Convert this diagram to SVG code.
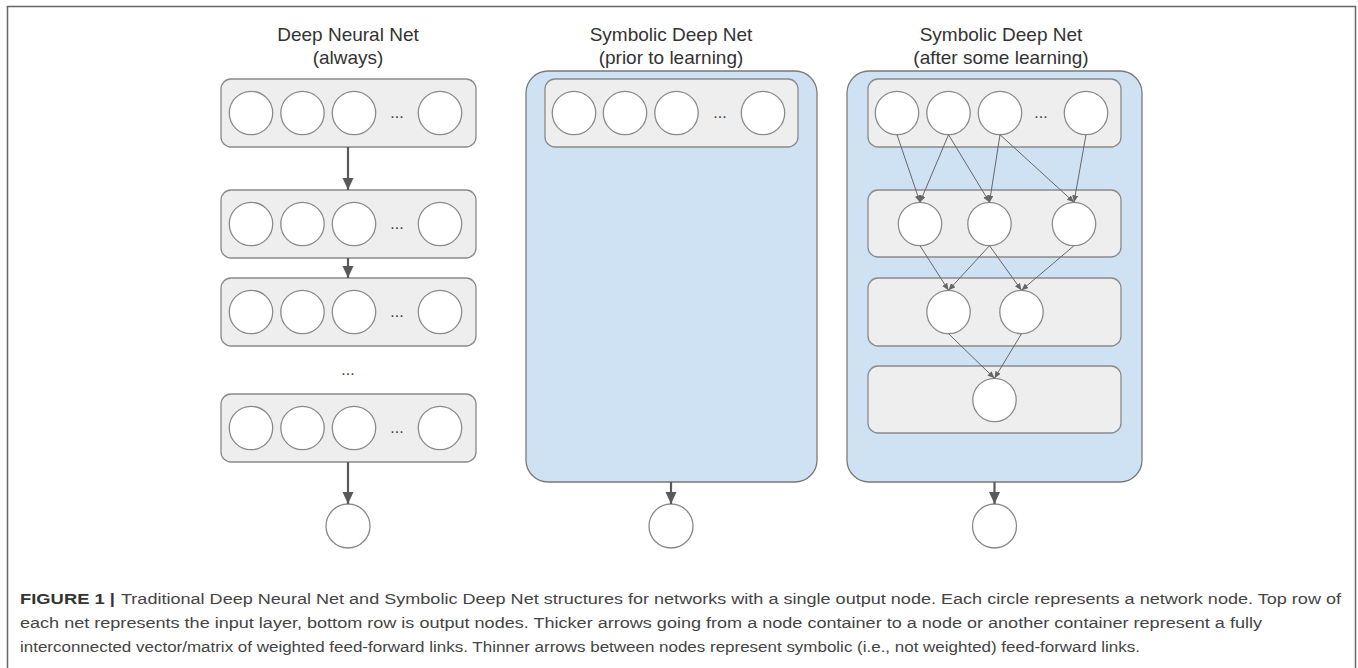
<svg xmlns="http://www.w3.org/2000/svg" width="1358" height="668" viewBox="0 0 1358 668">
<style>
.title{font-family:"Liberation Sans",Arial,sans-serif;font-size:19px;fill:#333;text-anchor:middle}
.dots{font-family:"Liberation Sans",Arial,sans-serif;font-size:16px;fill:#444;text-anchor:middle}
.layer{fill:#eeeeee;stroke:#8a8a8a;stroke-width:1.3}
.blue{fill:#cfe2f3;stroke:#7a7a7a;stroke-width:1.3}
.node{fill:#ffffff;stroke:#8a8a8a;stroke-width:1.3}
.thick{stroke:#595959;stroke-width:2.2;fill:none}
.thin{stroke:#666;stroke-width:1;fill:none}
.cap{font-family:"Liberation Sans",Arial,sans-serif;font-size:15.5px;fill:#444}
.capb{font-family:"Liberation Sans",Arial,sans-serif;font-size:15.5px;fill:#333;font-weight:bold}
</style>
<defs>
<marker id="ah" markerUnits="userSpaceOnUse" markerWidth="12" markerHeight="14" viewBox="0 0 12 14" refX="12" refY="5.5" orient="auto">
<path d="M0,0 L12,5.5 L0,11 Z" fill="#595959"/>
</marker>
<marker id="at" markerUnits="userSpaceOnUse" markerWidth="7" markerHeight="7" viewBox="0 0 7 7" refX="7" refY="3" orient="auto">
<path d="M0,0 L7,3 L0,6 Z" fill="#666"/>
</marker>
</defs>
<rect width="1358" height="668" fill="#ffffff"/>
<path d="M7.5,668 V6.5 H1355.5 V668" fill="none" stroke="#666" stroke-width="1.5"/>

<!-- Column 1 -->
<g id="title1">
<text class="title" x="348" y="41">Deep Neural Net</text>
<text class="title" x="348" y="64">(always)</text>
</g>
<g id="c1-layer1">
<rect class="layer" x="221" y="79" width="255" height="68" rx="10"/>
<circle class="node" cx="251" cy="113" r="21.7"/><circle class="node" cx="302.5" cy="113" r="21.7"/><circle class="node" cx="354" cy="113" r="21.7"/><circle class="node" cx="440" cy="113" r="21.7"/>
<text class="dots" x="397" y="118">...</text>
</g>
<g id="c1-layer2">
<rect class="layer" x="221" y="190" width="255" height="68" rx="10"/>
<circle class="node" cx="251" cy="224" r="21.7"/><circle class="node" cx="302.5" cy="224" r="21.7"/><circle class="node" cx="354" cy="224" r="21.7"/><circle class="node" cx="440" cy="224" r="21.7"/>
<text class="dots" x="397" y="229">...</text>
</g>
<g id="c1-layer3">
<rect class="layer" x="221" y="278" width="255" height="68" rx="10"/>
<circle class="node" cx="251" cy="312" r="21.7"/><circle class="node" cx="302.5" cy="312" r="21.7"/><circle class="node" cx="354" cy="312" r="21.7"/><circle class="node" cx="440" cy="312" r="21.7"/>
<text class="dots" x="397" y="317">...</text>
</g>
<g id="c1-ellipsis"><text class="dots" x="348" y="375">...</text></g>
<g id="c1-layer4">
<rect class="layer" x="221" y="394" width="255" height="68" rx="10"/>
<circle class="node" cx="251" cy="428" r="21.7"/><circle class="node" cx="302.5" cy="428" r="21.7"/><circle class="node" cx="354" cy="428" r="21.7"/><circle class="node" cx="440" cy="428" r="21.7"/>
<text class="dots" x="397" y="433">...</text>
</g>
<g id="c1-output"><circle class="node" cx="348" cy="526" r="22"/></g>

<!-- Column 2 -->
<g id="title2">
<text class="title" x="671" y="41">Symbolic Deep Net</text>
<text class="title" x="671" y="64">(prior to learning)</text>
</g>
<g id="c2-net">
<rect class="blue" x="526" y="71" width="291" height="411" rx="22"/>
</g>
<g id="c2-layer1">
<rect class="layer" x="545" y="79" width="253" height="68" rx="10"/>
<circle class="node" cx="574" cy="113" r="21.7"/><circle class="node" cx="625" cy="113" r="21.7"/><circle class="node" cx="676.5" cy="113" r="21.7"/><circle class="node" cx="763" cy="113" r="21.7"/>
<text class="dots" x="720" y="118">...</text>
</g>
<g id="c2-output"><circle class="node" cx="671" cy="526" r="22"/></g>

<!-- Column 3 -->
<g id="title3">
<text class="title" x="1001" y="41">Symbolic Deep Net</text>
<text class="title" x="1001" y="64">(after some learning)</text>
</g>
<g id="c3-net">
<rect class="blue" x="847" y="71" width="295" height="411" rx="22"/>
</g>
<g id="c3-layer1">
<rect class="layer" x="868" y="79" width="253" height="68" rx="10"/>
<circle class="node" cx="897" cy="113" r="21.7"/><circle class="node" cx="948.5" cy="113" r="21.7"/><circle class="node" cx="1000" cy="113" r="21.7"/><circle class="node" cx="1086" cy="113" r="21.7"/>
<text class="dots" x="1041" y="118">...</text>
</g>
<g id="c3-layer2">
<rect class="layer" x="868" y="190" width="253" height="67" rx="10"/>
<circle class="node" cx="920" cy="224" r="21.7"/><circle class="node" cx="989.5" cy="224" r="21.7"/><circle class="node" cx="1074" cy="224" r="21.7"/>
</g>
<g id="c3-layer3">
<rect class="layer" x="868" y="278" width="253" height="68" rx="10"/>
<circle class="node" cx="948.5" cy="312" r="21.7"/><circle class="node" cx="1021.5" cy="312" r="21.7"/>
</g>
<g id="c3-layer4">
<rect class="layer" x="868" y="366" width="253" height="67" rx="10"/>
<circle class="node" cx="994.5" cy="400" r="21.7"/>
</g>
<g id="c3-output"><circle class="node" cx="994.5" cy="526" r="22"/></g>

<!-- Connectors -->
<g id="connectors">
<line class="thick" x1="348" y1="147" x2="348" y2="190" marker-end="url(#ah)"/>
<line class="thick" x1="348" y1="258" x2="348" y2="278" marker-end="url(#ah)"/>
<line class="thick" x1="348" y1="462" x2="348" y2="504" marker-end="url(#ah)"/>
<line class="thick" x1="671" y1="482" x2="671" y2="504" marker-end="url(#ah)"/>
<line class="thick" x1="994.5" y1="482" x2="994.5" y2="504" marker-end="url(#ah)"/>

<line class="thin" x1="897" y1="134.7" x2="920" y2="202.3" marker-end="url(#at)"/>
<line class="thin" x1="948.5" y1="134.7" x2="920" y2="202.3" marker-end="url(#at)"/>
<line class="thin" x1="948.5" y1="134.7" x2="989.5" y2="202.3" marker-end="url(#at)"/>
<line class="thin" x1="1000" y1="134.7" x2="989.5" y2="202.3" marker-end="url(#at)"/>
<line class="thin" x1="1000" y1="134.7" x2="1074" y2="202.3" marker-end="url(#at)"/>
<line class="thin" x1="1086" y1="134.7" x2="1074" y2="202.3" marker-end="url(#at)"/>

<line class="thin" x1="920" y1="245.7" x2="948.5" y2="290.3" marker-end="url(#at)"/>
<line class="thin" x1="989.5" y1="245.7" x2="948.5" y2="290.3" marker-end="url(#at)"/>
<line class="thin" x1="989.5" y1="245.7" x2="1021.5" y2="290.3" marker-end="url(#at)"/>
<line class="thin" x1="1074" y1="245.7" x2="1021.5" y2="290.3" marker-end="url(#at)"/>

<line class="thin" x1="948.5" y1="333.7" x2="994.5" y2="378.3" marker-end="url(#at)"/>
<line class="thin" x1="1021.5" y1="333.7" x2="994.5" y2="378.3" marker-end="url(#at)"/>
</g>

<!-- Caption -->
<g id="caption">
<text class="capb" x="20" y="604" textLength="95" lengthAdjust="spacingAndGlyphs">FIGURE 1 |</text>
<text class="cap" x="121" y="604" textLength="1220" lengthAdjust="spacingAndGlyphs">Traditional Deep Neural Net and Symbolic Deep Net structures for networks with a single output node. Each circle represents a network node. Top row of</text>
<text class="cap" x="20" y="628" textLength="1242" lengthAdjust="spacingAndGlyphs">each net represents the input layer, bottom row is output nodes. Thicker arrows going from a node container to a node or another container represent a fully</text>
<text class="cap" x="20" y="652" textLength="1120" lengthAdjust="spacingAndGlyphs">interconnected vector/matrix of weighted feed-forward links. Thinner arrows between nodes represent symbolic (i.e., not weighted) feed-forward links.</text>
</g>
</svg>
